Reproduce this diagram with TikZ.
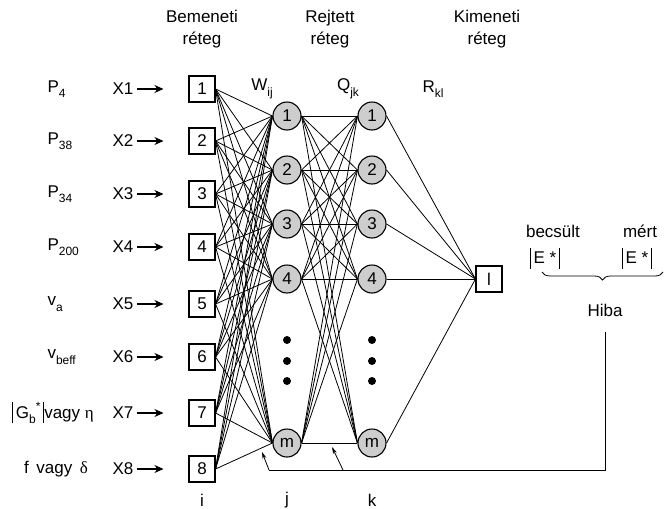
\documentclass[tikz,border=0pt]{standalone}
\usepackage{fontspec}
\setmainfont{Liberation Sans}
\newfontfamily\greekfont{Liberation Serif}
\usetikzlibrary{arrows.meta, positioning, decorations.pathreplacing}
\definecolor{neuroncolor}{RGB}{205,205,205}
\newcommand{\lowidx}[1]{\raisebox{-0.6ex}{\fontsize{12}{12}\selectfont #1}}
\newcommand{\absbar}{\rule[-5pt]{0.9pt}{21pt}}

\begin{document}
\begin{tikzpicture}[
    x=1pt, y=-1pt,
    every node/.style={font=\fontsize{17}{22}\selectfont},
    inbox/.style={draw, line width=1.1pt, fill=white, minimum size=26pt, inner sep=0pt, font=\fontsize{17}{17}\selectfont},
    neuron/.style={draw, line width=1.1pt, circle, fill=neuroncolor, minimum size=28pt, inner sep=0pt, font=\fontsize{17}{17}\selectfont},
    link/.style={line width=0.8pt},
    inarrow/.style={line width=1.8pt, -{Stealth[length=9pt,width=8pt]}, shorten >=25pt},
    feed/.style={line width=0.8pt, -{Stealth[length=7pt,width=4pt]}}
]
    \useasboundingbox (0,0) rectangle (665,509);

    % Headers
    \node[align=center] (hin) at (202,29) {Bemeneti\\réteg};
    \node[align=center] (hhid) at (330,29) {Rejtett\\réteg};
    \node[align=center] (hout) at (487,29) {Kimeneti\\réteg};

    % Weights
    \node (w) at (262,89) {W\lowidx{ij}};
    \node (q) at (348,89) {Q\lowidx{jk}};
    \node (r) at (433,89) {R\lowidx{kl}};

    % Input layer
    \foreach \i/\y in {1/89,2/141,3/194,4/247,5/304,6/357,7/413,8/469} {
        \node[inbox] (in\i) at (202,\y) {\i};
        \node (x\i) at (123,\y) {X\i};
        \draw[inarrow] (x\i.east) -- (in\i.west);
    }

    % Input variables
    \node[anchor=west] (p1) at (44,89) {P\lowidx{4}};
    \node[anchor=west] (p2) at (44,141) {P\lowidx{38}};
    \node[anchor=west] (p3) at (44,194) {P\lowidx{34}};
    \node[anchor=west] (p4) at (44,247) {P\lowidx{200}};
    \node[anchor=west] (p5) at (44,304) {v\lowidx{a}};
    \node[anchor=west] (p6) at (44,357) {v\lowidx{beff}};
    \node (p7) at (53,413) {\absbar\,G\lowidx{b}\raisebox{0.9ex}{\fontsize{12}{12}\selectfont *}\,\absbar vagy {\greekfont η}};
    \node (p8) at (56,469) {f\, vagy\, {\greekfont δ}};

    % Hidden layers
    \foreach \j/\lab/\y in {1/1/116,2/2/170,3/3/224,4/4/279,5/m/443} {
        \node[neuron] (a\j) at (287,\y) {\lab};
        \node[neuron] (b\j) at (372,\y) {\lab};
    }
    \foreach \x in {287,372}
        \foreach \y in {340,361,381}
            \fill (\x,\y) circle (4pt);

    % Output layer
    \node[inbox] (out) at (489,279) {l};

    % Connections
    \foreach \i in {1,...,8}
        \foreach \j in {1,...,5}
            \draw[link] (in\i.east) -- (a\j.west);
    \foreach \j in {1,...,5}
        \foreach \k in {1,...,5}
            \draw[link] (a\j.east) -- (b\k.west);
    \foreach \k in {1,...,5}
        \draw[link] (b\k.east) -- (out.west);

    % Error
    \node (est) at (553,231) {becsült};
    \node (meas) at (640,231) {mért};
    \node (e1) at (545,258) {\absbar\,E *\,\absbar};
    \node (e2) at (637,258) {\absbar\,E *\,\absbar};
    \draw[link, decorate, decoration={brace, mirror, amplitude=8pt}] (542,272) -- (663,272);
    \node (hiba) at (605,310) {Hiba};

    % Feedback
    \coordinate (fb1) at (269,470);
    \coordinate (fb2) at (343,470);
    \coordinate (tip1) at (262,452);
    \coordinate (tip2) at (332,447);
    \draw[link] (hiba.south) ++(0,12) |- (fb1);
    \draw[feed] (fb1) -- (tip1);
    \draw[feed] (fb2) -- (tip2);

    % Indices
    \node (ii) at (202,500) {i};
    \node (jj) at (287,500) {j};
    \node (kk) at (372,500) {k};
\end{tikzpicture}
\end{document}
